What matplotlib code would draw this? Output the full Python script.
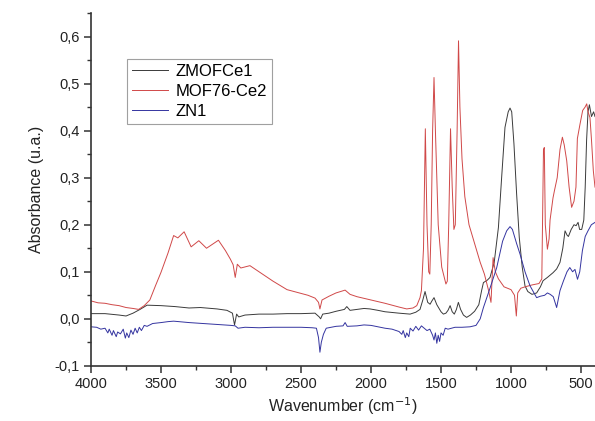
import matplotlib
matplotlib.use("Agg")
import matplotlib.pyplot as plt
from matplotlib.ticker import MultipleLocator, FuncFormatter

plt.rcParams['font.family'] = ['Liberation Sans', 'DejaVu Sans']

# ---- data ----
labels = ["ZMOFCe1", "MOF76-Ce2", "ZN1"]

wn_black = [4000, 3900, 3800, 3750, 3700, 3650, 3600, 3500, 3400, 3300, 3219, 3100, 3029, 2990, 2975, 2960,
            2945, 2900, 2800, 2700, 2600, 2500, 2400, 2370, 2360, 2345, 2300, 2250, 2190, 2173, 2150, 2100,
            2050, 2007, 1950, 1900, 1800, 1721, 1680, 1650, 1630, 1614, 1595, 1578, 1565, 1550, 1530, 1500,
            1483, 1465, 1450, 1435, 1420, 1405, 1390, 1376, 1360, 1340, 1317, 1290, 1260, 1230, 1210, 1197,
            1170, 1150, 1120, 1090, 1067, 1043, 1020, 1007, 995, 979, 960, 941, 920, 900, 880, 850, 817, 790,
            771, 740, 700, 674, 650, 630, 614, 600, 590, 570, 550, 535, 521, 510, 495, 480, 470, 460, 450,
            440, 425, 410, 400]
ab_black = [0.011, 0.011, 0.008, 0.006, 0.012, 0.020, 0.029, 0.028, 0.026, 0.023, 0.024, 0.021, 0.018, 0.012,
            -0.013, 0.010, 0.004, 0.008, 0.010, 0.010, 0.011, 0.011, 0.012, 0.004, 0.000, 0.010, 0.012, 0.016,
            0.020, 0.026, 0.018, 0.020, 0.022, 0.021, 0.018, 0.015, 0.012, 0.010, 0.014, 0.020, 0.040, 0.058,
            0.035, 0.031, 0.038, 0.045, 0.030, 0.015, 0.010, 0.012, 0.018, 0.028, 0.015, 0.010, 0.020, 0.035,
            0.020, 0.008, 0.003, 0.008, 0.016, 0.030, 0.060, 0.077, 0.082, 0.088, 0.120, 0.194, 0.300, 0.407,
            0.440, 0.448, 0.440, 0.372, 0.266, 0.173, 0.110, 0.070, 0.058, 0.052, 0.055, 0.068, 0.081, 0.088,
            0.098, 0.106, 0.120, 0.150, 0.187, 0.178, 0.175, 0.190, 0.200, 0.198, 0.205, 0.190, 0.190, 0.210,
            0.280, 0.380, 0.440, 0.455, 0.430, 0.440, 0.430]

wn_red = [4000, 3950, 3900, 3850, 3800, 3750, 3700, 3660, 3620, 3580, 3540, 3500, 3450, 3410, 3380, 3335,
          3285, 3230, 3175, 3090, 3040, 3005, 2985, 2970, 2955, 2930, 2865, 2800, 2700, 2600, 2550, 2450,
          2400, 2375, 2365, 2350, 2300, 2250, 2185, 2150, 2100, 2000, 1900, 1800, 1745, 1700, 1673, 1650,
          1640, 1625, 1612, 1600, 1588, 1580, 1570, 1560, 1550, 1540, 1520, 1495, 1465, 1455, 1445, 1432,
          1420, 1408, 1398, 1385, 1375, 1365, 1350, 1330, 1300, 1260, 1220, 1190, 1160, 1143, 1128, 1112,
          1090, 1050, 1000, 975, 962, 952, 930, 900, 850, 800, 780, 768, 762, 755, 740, 728, 721, 700, 690,
          670, 650, 633, 620, 602, 585, 567, 550, 536, 526, 507, 488, 471, 459, 450, 436, 425, 412, 400]
ab_red = [0.038, 0.034, 0.033, 0.030, 0.028, 0.024, 0.022, 0.020, 0.028, 0.040, 0.070, 0.099, 0.140, 0.177,
          0.172, 0.185, 0.153, 0.166, 0.150, 0.167, 0.145, 0.127, 0.115, 0.088, 0.116, 0.108, 0.113, 0.100,
          0.080, 0.062, 0.058, 0.050, 0.044, 0.035, 0.021, 0.040, 0.048, 0.055, 0.061, 0.052, 0.047, 0.040,
          0.033, 0.025, 0.021, 0.023, 0.028, 0.045, 0.060, 0.150, 0.404, 0.200, 0.100, 0.095, 0.200, 0.400,
          0.513, 0.400, 0.200, 0.110, 0.074, 0.080, 0.200, 0.404, 0.280, 0.190, 0.200, 0.400, 0.591, 0.450,
          0.340, 0.260, 0.200, 0.160, 0.120, 0.095, 0.060, 0.035, 0.130, 0.100, 0.085, 0.068, 0.062, 0.050,
          0.006, 0.055, 0.065, 0.068, 0.072, 0.075, 0.085, 0.360, 0.364, 0.200, 0.148, 0.170, 0.210, 0.257,
          0.272, 0.300, 0.360, 0.386, 0.370, 0.336, 0.280, 0.237, 0.250, 0.280, 0.383, 0.414, 0.443, 0.450,
          0.457, 0.440, 0.428, 0.380, 0.315, 0.280]

wn_blue = [4000, 3960, 3930, 3900, 3880, 3870, 3850, 3840, 3820, 3810, 3790, 3770, 3755, 3745, 3730, 3715,
           3700, 3685, 3670, 3655, 3640, 3620, 3600, 3560, 3500, 3450, 3410, 3300, 3200, 3100, 3000, 2970,
           2950, 2900, 2800, 2700, 2600, 2500, 2420, 2390, 2375, 2365, 2355, 2340, 2320, 2250, 2200, 2185,
           2170, 2100, 2050, 2000, 1950, 1900, 1850, 1800, 1780, 1770, 1755, 1745, 1730, 1720, 1700, 1680,
           1660, 1640, 1620, 1600, 1580, 1560, 1550, 1540, 1530, 1520, 1510, 1500, 1485, 1470, 1450, 1400,
           1350, 1293, 1250, 1220, 1197, 1150, 1102, 1060, 1031, 1007, 990, 960, 936, 900, 864, 817, 790,
           760, 740, 720, 698, 674, 650, 626, 600, 580, 560, 543, 525, 509, 490, 470, 450, 426, 400]
ab_blue = [-0.017, -0.018, -0.022, -0.020, -0.030, -0.022, -0.035, -0.025, -0.038, -0.028, -0.032, -0.022,
           -0.041, -0.030, -0.040, -0.024, -0.033, -0.020, -0.030, -0.018, -0.025, -0.014, -0.016, -0.010,
           -0.008, -0.006, -0.005, -0.008, -0.010, -0.012, -0.014, -0.015, -0.020, -0.018, -0.019, -0.018,
           -0.018, -0.018, -0.019, -0.020, -0.040, -0.071, -0.050, -0.033, -0.020, -0.016, -0.015, -0.008,
           -0.016, -0.015, -0.013, -0.014, -0.017, -0.020, -0.022, -0.027, -0.033, -0.025, -0.040, -0.030,
           -0.038, -0.020, -0.026, -0.016, -0.024, -0.015, -0.020, -0.025, -0.022, -0.035, -0.045, -0.030,
           -0.052, -0.035, -0.048, -0.030, -0.035, -0.020, -0.022, -0.018, -0.018, -0.017, -0.014, 0.000,
           0.024, 0.065, 0.109, 0.165, 0.187, 0.196, 0.190, 0.160, 0.138, 0.100, 0.070, 0.045, 0.048, 0.050,
           0.055, 0.052, 0.047, 0.024, 0.060, 0.080, 0.100, 0.109, 0.100, 0.105, 0.084, 0.100, 0.145, 0.175,
           0.187, 0.200, 0.205]

# ---- figure ----
fig = plt.figure(figsize=(5.95, 4.21), dpi=100)
ax = fig.add_axes([0.153, 0.131, 0.847, 0.838])

ax.plot(wn_black, ab_black, color="#3a3a3a", lw=0.7, label=labels[0])
ax.plot(wn_red, ab_red, color="#d04848", lw=0.7, label=labels[1])
ax.plot(wn_blue, ab_blue, color="#3434a0", lw=0.7, label=labels[2])

ax.set_xlim(4000, 400)
ax.set_ylim(-0.1, 0.65)

ax.xaxis.set_major_locator(MultipleLocator(500))
ax.xaxis.set_minor_locator(MultipleLocator(250))
ax.yaxis.set_major_locator(MultipleLocator(0.1))
ax.yaxis.set_minor_locator(MultipleLocator(0.05))
ax.yaxis.set_major_formatter(FuncFormatter(lambda v, p: f"{v:.1f}".replace('.', ',').replace('\u2212', '-')))
ax.xaxis.set_major_formatter(FuncFormatter(lambda v, p: f"{int(round(v))}"))

for s in ("top", "right"):
    ax.spines[s].set_visible(False)
for s in ("left", "bottom"):
    ax.spines[s].set_linewidth(1.2)
    ax.spines[s].set_color("#333333")

ax.tick_params(which="major", direction="out", length=5, width=1.1, labelsize=10.5, colors="#333333",
               labelcolor="#222222", pad=3)
ax.tick_params(which="minor", direction="out", length=3, width=1.0, colors="#333333")

ax.set_xlabel("Wavenumber (cm$^{-1}$)", fontsize=11.5, color="#222222", labelpad=3)
ax.set_ylabel("Absorbance (u.a.)", fontsize=11.5, color="#222222", labelpad=8)

leg = ax.legend(loc="upper left", bbox_to_anchor=(0.071, 0.87), fontsize=12, frameon=True, fancybox=False,
                handlelength=2.2, handletextpad=0.45, labelspacing=0.3, borderpad=0.3, borderaxespad=0)
leg.get_frame().set_edgecolor("#888888")
leg.get_frame().set_linewidth(0.8)

fig.savefig("out.png", dpi=100)
